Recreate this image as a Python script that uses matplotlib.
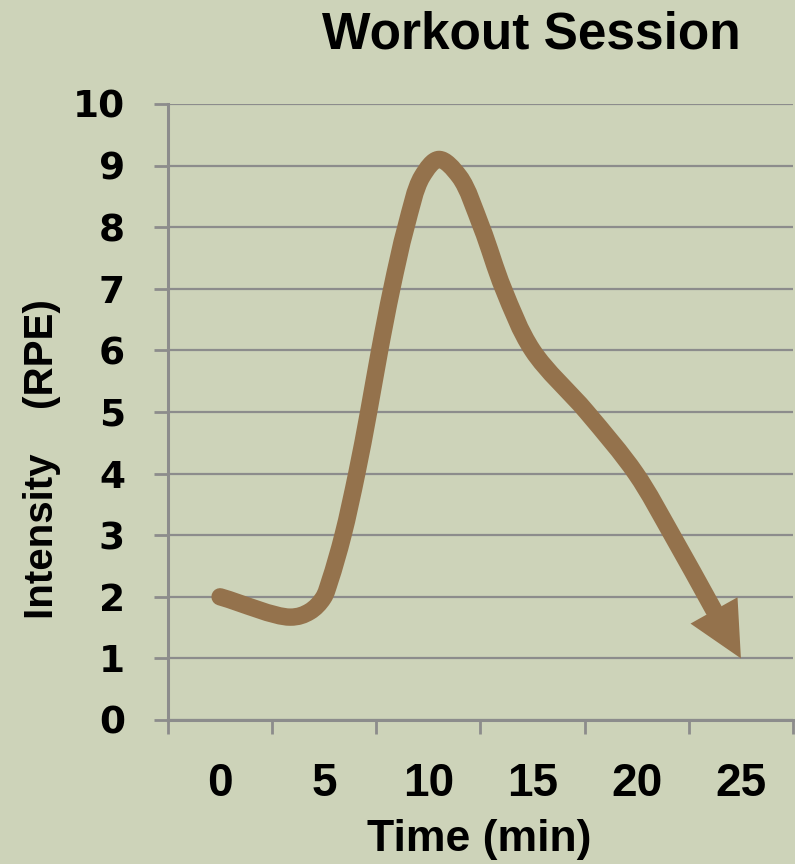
import matplotlib.pyplot as plt
import numpy as np
from matplotlib.path import Path
from matplotlib.patches import PathPatch


# points (time in min, RPE)
time_min = [0, 3.36, 4.3, 4.95, 5.28, 5.9, 6.56, 7.13, 7.66, 8.24, 8.92,
            9.69, 10.5, 11.49, 12.55, 13.6, 15.0, 17.6, 19.96, 21.7, 23.69]
rpe = [2.0, 1.67, 1.76, 1.98, 2.27, 3.0, 4.0, 5.0, 6.0, 7.0, 8.0,
       8.82, 9.1, 8.82, 8.0, 7.0, 6.0, 5.0, 4.0, 3.0, 1.79]
arrow_tip = (25, 1.0)

x_labels = [0, 5, 10, 15, 20, 25]
y_labels = list(range(0, 11))

bg = '#cdd3b9'
brown = '#94724c'
grey = '#8c8c8c'
sans = ['Liberation Sans', 'DejaVu Sans']

fig = plt.figure(figsize=(7.95, 8.64), dpi=100, facecolor=bg)
ax = fig.add_axes([168 / 795, 1 - 720 / 864, 625 / 795, 616 / 864])
ax.set_facecolor(bg)

# smooth line through the points: centripetal Catmull-Rom -> cubic beziers
aspect = np.array([625 / 30, 616 / 10])


def knot(a, b):
    return np.linalg.norm((b - a) * aspect) ** 0.5


pts = np.column_stack([time_min, rpe])
verts = [pts[0]]
codes = [Path.MOVETO]
for i in range(len(pts) - 1):
    p1, p2 = pts[i], pts[i + 1]
    p0 = pts[i - 1] if i > 0 else None
    p3 = pts[i + 2] if i + 2 < len(pts) else None
    d2 = knot(p1, p2)
    if p0 is None:
        b1 = p1 + (p2 - p1) / 3
    else:
        d1 = knot(p0, p1)
        b1 = (d1**2 * p2 - d2**2 * p0 + (2 * d1**2 + 3 * d1 * d2 + d2**2) * p1) / (3 * d1 * (d1 + d2))
    if p3 is None:
        b2 = p2 - (p2 - p1) / 3
    else:
        d3 = knot(p2, p3)
        b2 = (d3**2 * p1 - d2**2 * p3 + (2 * d3**2 + 3 * d3 * d2 + d2**2) * p2) / (3 * d3 * (d3 + d2))
    verts += [b1, b2, p2]
    codes += [Path.CURVE4] * 3
ax.add_patch(PathPatch(Path(verts, codes), fill=False, edgecolor=brown,
                       lw=12.5, capstyle='round', joinstyle='round', zorder=3))

ax.annotate('', xy=arrow_tip, xytext=(time_min[-1], rpe[-1]),
            arrowprops=dict(arrowstyle='-|>,head_length=3.96,head_width=1.94',
                            mutation_scale=10, color=brown, lw=0,
                            shrinkA=0, shrinkB=0), zorder=4)

ax.set_xlim(-2.5, 27.5)
ax.set_ylim(0, 10)

ax.set_xticks(x_labels)
ax.set_xticklabels([str(v) for v in x_labels])
ax.set_xticks(np.arange(-2.5, 28, 5), minor=True)
ax.tick_params(axis='x', which='major', length=0, pad=30, labelsize=33)
ax.tick_params(axis='x', which='minor', length=10, width=2, color=grey)
for lbl in ax.get_xticklabels():
    lbl.set_fontfamily(sans)
    lbl.set_fontweight('bold')

ax.set_yticks(y_labels)
ax.tick_params(axis='y', length=10, width=2, color=grey, pad=21, labelsize=27)
for lbl in ax.get_yticklabels():
    lbl.set_fontfamily('DejaVu Sans')
    lbl.set_fontweight('bold')

ax.yaxis.grid(True, color=grey, lw=1.6)
ax.set_axisbelow(True)
for side in ['top', 'right']:
    ax.spines[side].set_visible(False)
for side in ['left', 'bottom']:
    ax.spines[side].set_color(grey)
    ax.spines[side].set_linewidth(2.2)

fig.text(531 / 795, 1 - 35 / 864, 'Workout Session', ha='center', va='center',
         fontsize=37, fontweight='bold', family=sans)
fig.text(479 / 795, 1 - 840 / 864, 'Time (min)', ha='center', va='center',
         fontsize=32, fontweight='bold', family=sans)
fig.text(42 / 795, 1 - 459 / 864, 'Intensity    (RPE)', ha='center', va='center',
         rotation=90, fontsize=29, fontweight='bold', family=sans)

fig.savefig('out.png', dpi=100, facecolor=bg)
